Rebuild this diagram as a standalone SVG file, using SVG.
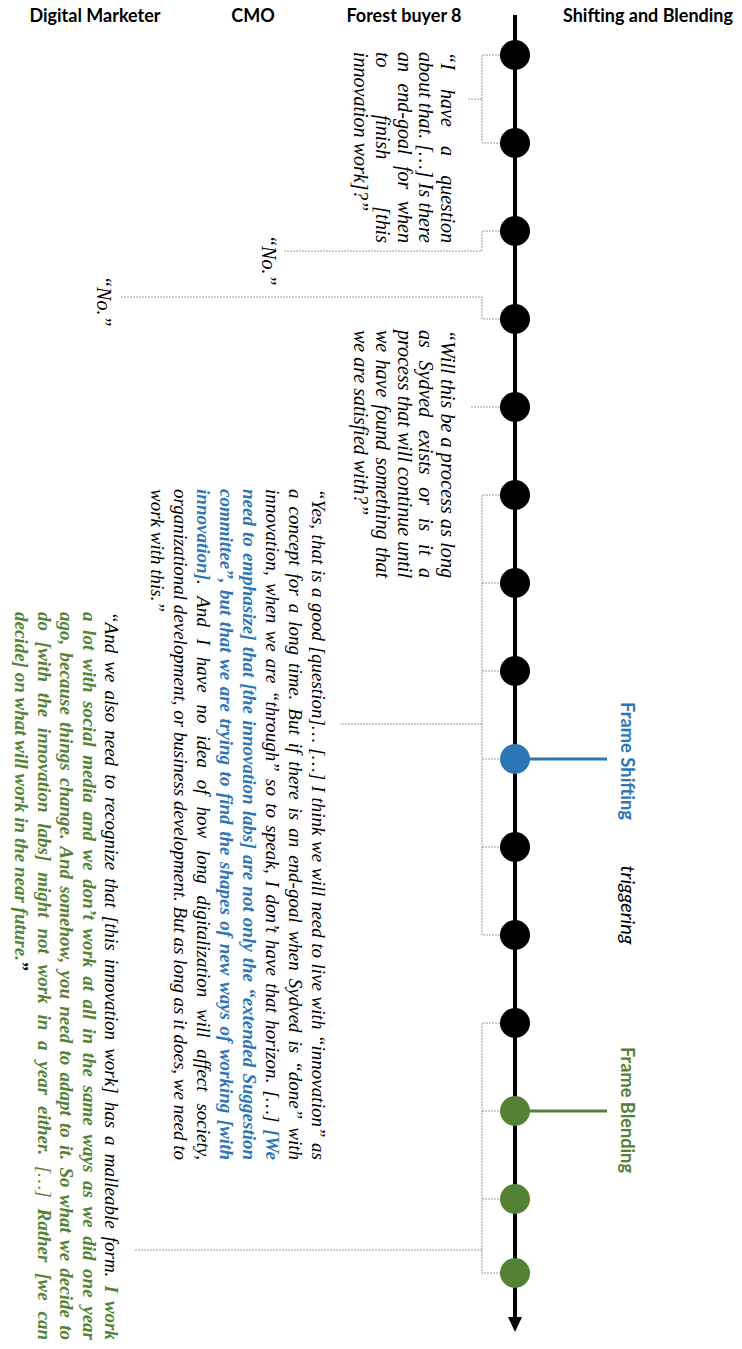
<svg xmlns="http://www.w3.org/2000/svg" width="742" height="1349" viewBox="0 0 742 1349">
  <style>
    .hdr { font-family: Lato, "Liberation Sans", sans-serif; font-weight: bold; font-size: 18px; fill: #000; }
    .lbl { font-family: Lato, "Liberation Sans", sans-serif; }
    .q { font-style: italic; fill: #000; }
    .b { fill: #2E75B6; font-weight: bold; }
    .g { fill: #548235; font-weight: bold; }
    .gr { fill: #548235; }
    .link { fill: none; stroke: #9a9a9a; stroke-width: 1; stroke-dasharray: 2 1; }
    .blk { fill: #000; }
    .blu { fill: #2E75B6; }
    .grn { fill: #548235; }
  </style>

  <!-- column headings -->
  <g id="headings">
    <text class="hdr" x="95" y="22" text-anchor="middle">Digital Marketer</text>
    <text class="hdr" x="253" y="22" text-anchor="middle">CMO</text>
    <text class="hdr" x="404" y="22" text-anchor="middle">Forest buyer 8</text>
    <text class="hdr" x="648" y="22" text-anchor="middle">Shifting and Blending</text>
  </g>

  <!-- dotted connectors from the timeline to the quotes -->
  <g id="connectors">
    <path class="link" d="M500,55 H482 V143 H500 M482,99 H468"/>
    <path class="link" d="M500,231 H482 V251 H283"/>
    <path class="link" d="M500,319 H482 V297 H120"/>
    <path class="link" d="M500,407 H470"/>
    <path class="link" d="M500,495 H482 V935 H500 M482,583 H500 M482,671 H500 M482,759 H500 M482,847 H500 M482,724 H340"/>
    <path class="link" d="M500,1023 H482 V1273 H500 M482,1111 H500 M482,1199 H500 M482,1250 H135"/>
    <line x1="515" y1="759" x2="607" y2="759" stroke="#2E75B6" stroke-width="3"/>
    <line x1="515" y1="1111" x2="607" y2="1111" stroke="#548235" stroke-width="3"/>
  </g>

  <!-- timeline -->
  <g id="timeline">
    <line x1="515" y1="15" x2="515" y2="1320" stroke="#000" stroke-width="4"/>
    <polygon points="508,1317 522,1317 515,1332" fill="#000"/>
  </g>

  <g id="events">
    <circle id="e1" class="blk" cx="515" cy="55" r="15"/>
    <circle id="e2" class="blk" cx="515" cy="143" r="15"/>
    <circle id="e3" class="blk" cx="515" cy="231" r="15"/>
    <circle id="e4" class="blk" cx="515" cy="319" r="15"/>
    <circle id="e5" class="blk" cx="515" cy="407" r="15"/>
    <circle id="e6" class="blk" cx="515" cy="495" r="15"/>
    <circle id="e7" class="blk" cx="515" cy="583" r="15"/>
    <circle id="e8" class="blk" cx="515" cy="671" r="15"/>
    <circle id="e9" class="blu" cx="515" cy="759" r="15"/>
    <circle id="e10" class="blk" cx="515" cy="847" r="15"/>
    <circle id="e11" class="blk" cx="515" cy="935" r="15"/>
    <circle id="e12" class="blk" cx="515" cy="1023" r="15"/>
    <circle id="e13" class="grn" cx="515" cy="1111" r="15"/>
    <circle id="e14" class="grn" cx="515" cy="1199" r="15"/>
    <circle id="e15" class="grn" cx="515" cy="1273" r="15"/>
  </g>

  <!-- frame labels, rotated to read downwards -->
  <g id="frame-shifting" transform="translate(621,702) rotate(90)">
    <text class="lbl" x="0" y="0" font-size="18" font-weight="bold" fill="#2E75B6" textLength="118" lengthAdjust="spacingAndGlyphs">Frame Shifting</text>
  </g>
  <g id="triggering" transform="translate(621,905) rotate(90)">
    <text class="lbl" x="0" y="0" font-size="20" font-style="italic" fill="#000" text-anchor="middle">triggering</text>
  </g>
  <g id="frame-blending" transform="translate(621,1047) rotate(90)">
    <text class="lbl" x="0" y="0" font-size="18" font-weight="bold" fill="#548235" textLength="126" lengthAdjust="spacingAndGlyphs">Frame Blending</text>
  </g>

  <!-- Forest buyer 8, first question -->
  <g id="fb8-question" class="q" font-family="'Liberation Serif', 'Times New Roman', 'DejaVu Serif', serif" font-size="20" transform="translate(441,52) rotate(90)">
    <text x="0" y="0" word-spacing="14.2" textLength="191">“I have a question</text>
    <text x="0" y="21.7" textLength="191">about that. […] Is there</text>
    <text x="0" y="43.4" word-spacing="6.4" textLength="191">an end-goal for when</text>
    <text x="0" y="65.1" word-spacing="42.2" textLength="191">to finish [this</text>
    <text x="0" y="86.8">innovation work]?”</text>
  </g>

  <!-- CMO answer -->
  <g id="cmo-no" class="q" font-family="'Liberation Serif', 'Times New Roman', 'DejaVu Serif', serif" font-size="20" transform="translate(262,235) rotate(90)">
    <text x="0" y="0">“No.”</text>
  </g>

  <!-- Digital Marketer answer -->
  <g id="dm-no" class="q" font-family="'Liberation Serif', 'Times New Roman', 'DejaVu Serif', serif" font-size="20" transform="translate(97,276) rotate(90)">
    <text x="0" y="0">“No.”</text>
  </g>

  <!-- Forest buyer 8, second question -->
  <g id="fb8-process" class="q" font-family="'Liberation Serif', 'Times New Roman', 'DejaVu Serif', serif" font-size="20" transform="translate(441,330) rotate(90)">
    <text x="0" y="0" textLength="248">“Will this be a process as long</text>
    <text x="0" y="21.7" word-spacing="7.8" textLength="248">as Sydved exists or is it a</text>
    <text x="0" y="43.4" textLength="248">process that will continue until</text>
    <text x="0" y="65.1" word-spacing="2.3" textLength="248">we have found something that</text>
    <text x="0" y="86.8">we are satisfied with?”</text>
  </g>

  <!-- CMO reply -->
  <g id="cmo-reply" class="q" font-family="'Liberation Serif', 'Times New Roman', 'DejaVu Serif', serif" font-size="19" transform="translate(312,489) rotate(90)">
    <text x="0" y="0" word-spacing="0.7" textLength="671">“Yes, that is a good [question]… […] I think we will need to live with “innovation” as</text>
    <text x="0" y="23" word-spacing="3.2" textLength="671">a concept for a long time. But if there is an end-goal when Sydved is “done” with</text>
    <text x="0" y="46" word-spacing="2.3" textLength="671">innovation, when we are “through” so to speak, I don’t have that horizon. […] <tspan class="b">[We</tspan></text>
    <text x="0" y="69" word-spacing="1.4" textLength="671" class="b">need to emphasize] that [the innovation labs] are not only the “extended Suggestion</text>
    <text x="0" y="92" word-spacing="1.8" textLength="671" class="b">committee”, but that we are trying to find the shapes of new ways of working [with</text>
    <text x="0" y="115" word-spacing="7" textLength="671"><tspan class="b">innovation]</tspan>. And I have no idea of how long digitalization will affect society,</text>
    <text x="0" y="138" textLength="671">organizational development, or business development. But as long as it does, we need to</text>
    <text x="0" y="161">work with this.”</text>
  </g>

  <!-- Digital Marketer reply -->
  <g id="dm-reply" class="q" font-family="'Liberation Serif', 'Times New Roman', 'DejaVu Serif', serif" font-size="19" transform="translate(105,612) rotate(90)">
    <text x="0" y="0" word-spacing="3.3" textLength="728">“And we also need to recognize that [this innovation work] has a malleable form. <tspan class="g">I work</tspan></text>
    <text x="0" y="22.5" word-spacing="3.8" textLength="728" class="g">a lot with social media and we don’t work at all in the same ways as we did one year</text>
    <text x="0" y="45" word-spacing="2.4" textLength="728" class="g">ago, because things change. And somehow, you need to adapt to it. So what we decide to</text>
    <text x="0" y="67.5" word-spacing="6" textLength="728"><tspan class="g">do [with the innovation labs] might not work in a year either.</tspan> <tspan class="gr">[…]</tspan> <tspan class="g">Rather [we can</tspan></text>
    <text x="0" y="90"><tspan class="g">decide] on what will work in the near future.</tspan><tspan font-weight="bold">”</tspan></text>
  </g>
</svg>
